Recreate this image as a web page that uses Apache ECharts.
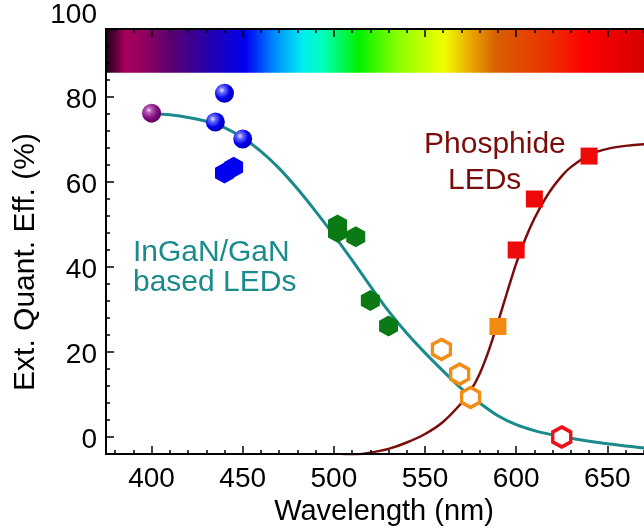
<!DOCTYPE html>
<html>
<head>
<meta charset="utf-8">
<script src="https://cdn.jsdelivr.net/npm/echarts@6/dist/echarts.min.js"></script>
<style>
  html, body { margin: 0; padding: 0; background: #fff; }
  #chart { width: 644px; height: 528px; }
</style>
</head>
<body>
<div id="chart"></div>
<script>
// Axis extents and tick positions
const wavelengthRange = [375, 680];
const efficiencyRange = [-4, 96];
const labelAxisMax = 100;
const xMajorTicks = [400, 450, 500, 550, 600, 650];
const xMinorTicks = [380, 390, 410, 420, 430, 440, 460, 470, 480, 490, 510, 520, 530, 540,
                     560, 570, 580, 590, 610, 620, 630, 640, 660, 670];
const yMajorTicks = [0, 20, 40, 60, 80];
const yMinorTicks = [4, 8, 12, 16, 24, 28, 32, 36, 44, 48, 52, 56, 64, 68, 72, 76, 84, 88, 92];
const yTickLabels = [0, 20, 40, 60, 80, 100];

// Visible-spectrum band along the top of the plot (efficiency range it spans)
const spectrumBand = [85.7, 96];

// Trend curves: [wavelength nm, EQE %]
const ingaNCurve = [
  [400, 76.2], [410, 75.8], [420, 75.2], [430, 74.3], [440, 72.8], [450, 70.4],
  [460, 67.2], [470, 63.2], [480, 58.4], [490, 53.1], [500, 47.5], [510, 41.6],
  [520, 35.5], [530, 29.6], [540, 24.4], [550, 19.8], [560, 15.5], [570, 11.4],
  [580, 8.0], [590, 5.0], [600, 2.9], [610, 1.5], [620, 0.5], [630, -0.3],
  [640, -1.0], [650, -1.6], [660, -2.1], [670, -2.6], [680, -3.0]
];
const phosphideCurve = [
  [505, -4.6], [510, -4.3], [520, -3.7], [530, -2.8], [540, -1.3], [550, 0.7],
  [560, 3.6], [570, 8.0], [575, 10.9], [580, 14.9], [585, 20.4], [590, 27.0],
  [595, 34.0], [600, 40.8], [605, 46.6], [610, 51.4], [615, 55.4], [620, 58.7],
  [625, 61.4], [630, 63.5], [640, 66.4], [650, 67.8], [660, 68.5], [670, 68.9],
  [680, 69.1]
];

// Measured devices: [wavelength nm, EQE %]
const violetLed = [[400, 76.2]];
const blueSphereLeds = [[440, 80.9], [435, 74.1], [450, 70.1]];
const blueHexLeds = [[440, 62.1], [445, 63.5]];
const greenLeds = [[502, 49.9], [502, 48.2], [512, 47.1], [520, 32.1], [530, 26.1]];
const amberHollowLeds = [[559, 20.6], [569, 14.8], [575, 9.3]];
const redHollowLeds = [[625, 0.0]];
const amberSquareLeds = [[590, 26.0]];
const redSquareLeds = [[600, 44.0], [610, 56.0], [640, 66.1]];

const FONT = "'Liberation Sans', Arial, Helvetica, sans-serif";
const TEAL = '#1b8a8c';
const MAROON = '#7b0c0c';
const HEX = 'path://M0,-10 L8.66,-5 L8.66,5 L0,10 L-8.66,5 L-8.66,-5 Z';

function sphere(light, mid, base, dark) {
  return {
    type: 'radial', x: 0.36, y: 0.34, r: 0.72,
    colorStops: [
      { offset: 0, color: light },
      { offset: 0.22, color: mid },
      { offset: 0.6, color: base },
      { offset: 1, color: dark }
    ]
  };
}

const spectrumGradient = {
  type: 'linear', x: 0, y: 0, x2: 1, y2: 0,
  colorStops: [
    { offset: 0, color: '#200018' },
    { offset: 0.013, color: '#500035' },
    { offset: 0.035, color: '#a8005c' },
    { offset: 0.061, color: '#98005f' },
    { offset: 0.117, color: '#580070' },
    { offset: 0.181, color: '#2800a8' },
    { offset: 0.251, color: '#0000f0' },
    { offset: 0.302, color: '#0088ff' },
    { offset: 0.353, color: '#00ecf0' },
    { offset: 0.391, color: '#00ffb8' },
    { offset: 0.454, color: '#00f000' },
    { offset: 0.524, color: '#88ff00' },
    { offset: 0.607, color: '#f0ff00' },
    { offset: 0.658, color: '#e8a400' },
    { offset: 0.702, color: '#d86000' },
    { offset: 0.797, color: '#ec3000' },
    { offset: 0.861, color: '#ff0000' },
    { offset: 0.963, color: '#d80000' },
    { offset: 1, color: '#c80000' }
  ]
};

function xAxisDef(position, ticks, len, opts) {
  return Object.assign({
    type: 'value', gridIndex: 0, position: position,
    min: wavelengthRange[0], max: wavelengthRange[1],
    axisLine: { show: false, onZero: false },
    axisTick: { show: true, inside: true, length: len, customValues: ticks, lineStyle: { color: '#000', width: 1.5 } },
    axisLabel: { show: false },
    splitLine: { show: false },
    z: 10
  }, opts || {});
}
function yAxisDef(ticks, len, opts) {
  return Object.assign({
    type: 'value', gridIndex: 0, position: 'left',
    min: efficiencyRange[0], max: efficiencyRange[1],
    axisLine: { show: false, onZero: false },
    axisTick: { show: true, inside: true, length: len, customValues: ticks, lineStyle: { color: '#000', width: 1.5 } },
    axisLabel: { show: false },
    splitLine: { show: false },
    z: 10
  }, opts || {});
}

function markerSeries(name, data, symbol, size, itemStyle) {
  return {
    name: name, type: 'scatter', data: data, symbol: symbol, symbolSize: size, z: 5,
    itemStyle: Object.assign({ opacity: 1 }, itemStyle),
    emphasis: { disabled: true }
  };
}

const chart = echarts.init(document.getElementById('chart'), null, { renderer: 'canvas' });

chart.setOption({
  animation: false,
  backgroundColor: '#fff',
  grid: [
    // plot frame
    { left: 106, right: -18, top: 29, bottom: 74, outerBoundsMode: 'none' },
    // same vertical scale, extended up to 100 for the left-hand labels
    // (nudged 3.5px down so the digits sit on their ticks like the original type)
    { left: 106, right: -18, top: 15.5, bottom: 70.5, outerBoundsMode: 'none' }
  ],
  xAxis: [
    xAxisDef('bottom', xMajorTicks, 8, {
      axisLine: { show: true, onZero: false, lineStyle: { color: '#000', width: 2 } },
      axisLabel: { show: true, customValues: xMajorTicks, fontFamily: FONT, fontSize: 28, color: '#000', margin: 11 },
      name: 'Wavelength (nm)', nameLocation: 'middle', nameGap: 32,
      nameTextStyle: { fontFamily: FONT, fontSize: 29, color: '#000', verticalAlign: 'top' }
    }),
    xAxisDef('bottom', xMinorTicks, 4),
    xAxisDef('top', xMajorTicks, 8, {
      axisLine: { show: true, onZero: false, lineStyle: { color: '#000', width: 2 } }
    }),
    xAxisDef('top', xMinorTicks, 4),
    { type: 'value', gridIndex: 1, show: false, min: wavelengthRange[0], max: wavelengthRange[1] }
  ],
  yAxis: [
    yAxisDef(yMajorTicks, 8, {
      axisLine: { show: true, onZero: false, lineStyle: { color: '#000', width: 2 } }
    }),
    yAxisDef(yMinorTicks, 4),
    {
      type: 'value', gridIndex: 1, position: 'left',
      min: efficiencyRange[0], max: labelAxisMax,
      axisLine: { show: false, onZero: false },
      axisTick: { show: false },
      splitLine: { show: false },
      axisLabel: {
        show: true, customValues: yTickLabels, fontFamily: FONT, fontSize: 28,
        color: '#000', margin: 9
      }
    }
  ],
  graphic: [
    {
      type: 'text', x: 26, y: 262, rotation: Math.PI / 2,
      style: { text: 'Ext. Quant. Eff. (%)', font: '30px ' + FONT, fill: '#000', align: 'center', verticalAlign: 'middle' }
    },
    {
      type: 'text', left: 133, top: 238,
      style: { text: 'InGaN/GaN\nbased LEDs', font: '30px ' + FONT, fill: TEAL, lineHeight: 30 }
    },
    {
      type: 'text', left: 424, top: 130,
      style: { text: 'Phosphide', font: '30px ' + FONT, fill: MAROON }
    },
    {
      type: 'text', left: 448, top: 166,
      style: { text: 'LEDs', font: '30px ' + FONT, fill: MAROON }
    }
  ],
  series: [
    {
      name: 'spectrum', type: 'line', data: [], z: 1, silent: true,
      markArea: {
        silent: true,
        itemStyle: { color: spectrumGradient, opacity: 1 },
        data: [[
          { xAxis: wavelengthRange[0], yAxis: spectrumBand[0] },
          { xAxis: wavelengthRange[1], yAxis: spectrumBand[1] }
        ]]
      }
    },
    {
      name: 'InGaN/GaN trend', type: 'line', data: ingaNCurve, showSymbol: false,
      smooth: 0.3, clip: true, z: 3,
      lineStyle: { color: TEAL, width: 3 }
    },
    {
      name: 'Phosphide trend', type: 'line', data: phosphideCurve, showSymbol: false,
      smooth: 0.3, clip: true, z: 3,
      lineStyle: { color: MAROON, width: 2.5 }
    },
    markerSeries('violet', violetLed, 'circle', 19,
      { color: sphere('#f4d8f4', '#b455b4', '#80107f', '#560058') }),
    markerSeries('blue spheres', blueSphereLeds, 'circle', 19,
      { color: sphere('#e6e6ff', '#6a6aff', '#0000ee', '#0000a8') }),
    markerSeries('blue hexagons', blueHexLeds, HEX, [19, 21], { color: '#0000ee' }),
    markerSeries('green', greenLeds, HEX, [19, 21], { color: '#0b7a14' }),
    markerSeries('amber hollow', amberHollowLeds, HEX, [18, 20],
      { color: '#ffffff', borderColor: '#f28c14', borderWidth: 3.5 }),
    markerSeries('red hollow', redHollowLeds, HEX, [18, 20],
      { color: '#ffffff', borderColor: '#ec1018', borderWidth: 3.5 }),
    markerSeries('amber square', amberSquareLeds, 'rect', 17, { color: '#f28a12' }),
    markerSeries('red squares', redSquareLeds, 'rect', 17, { color: '#ee0a0a' })
  ]
});
</script>
</body>
</html>
